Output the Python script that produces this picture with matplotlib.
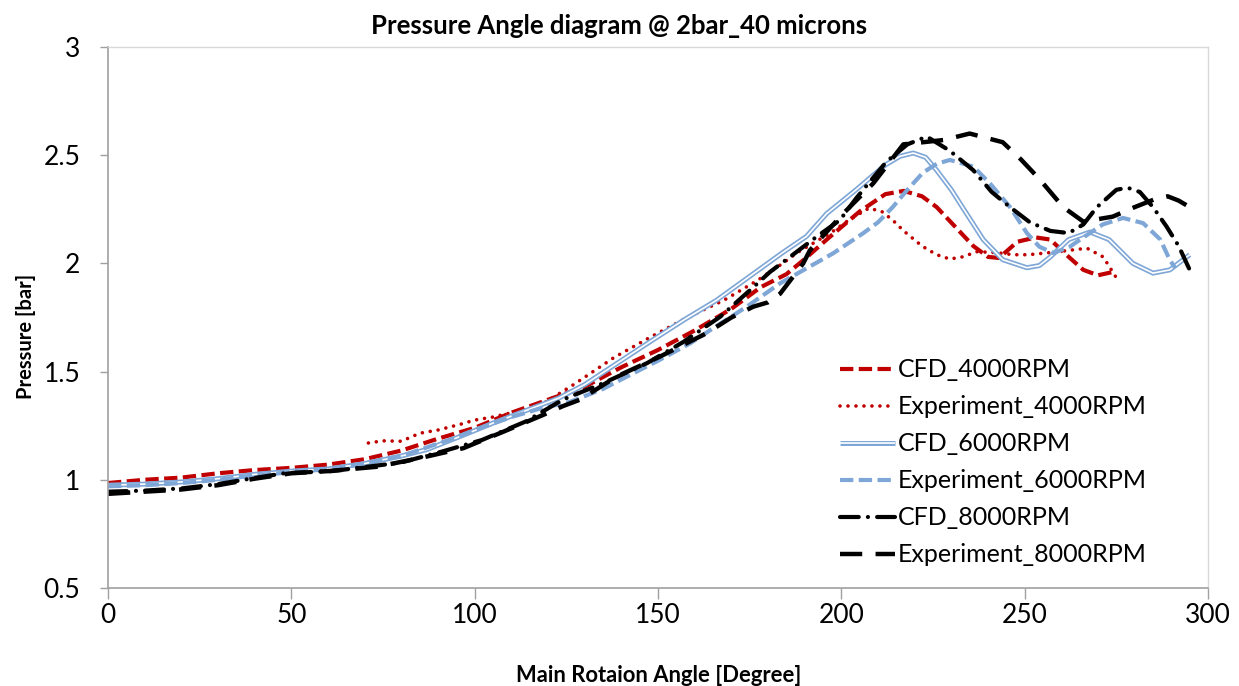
import matplotlib
matplotlib.use("Agg")
import matplotlib.pyplot as plt
from matplotlib.legend_handler import HandlerTuple

plt.rcParams['font.family'] = ['Lato', 'DejaVu Sans']

# ---------------- data ----------------
cfd4000_x = [0, 10, 20, 30, 40, 50, 60, 70, 80, 90, 100, 110, 120, 130, 140, 150, 160, 170, 178, 185,
             190, 196, 205, 212, 217, 222, 226, 231, 236, 240, 243, 248, 253, 257, 262, 266, 270, 274]
cfd4000_y = [0.985, 1.0, 1.01, 1.03, 1.045, 1.055, 1.07, 1.095, 1.135, 1.19, 1.24, 1.31, 1.37, 1.43, 1.52,
             1.6, 1.69, 1.79, 1.89, 1.95, 2.02, 2.11, 2.24, 2.32, 2.335, 2.31, 2.26, 2.17, 2.08, 2.03, 2.025,
             2.1, 2.12, 2.11, 2.03, 1.97, 1.945, 1.96]

exp4000_x = [71, 75, 80, 85, 90, 96, 100, 105, 110, 118, 127, 138, 148, 158, 168, 177, 184, 188, 193, 197,
             202, 207.5, 211, 214, 217, 222, 226, 229.6, 233, 237, 242, 247, 251, 257, 262, 267, 271.4, 275.5]
exp4000_y = [1.17, 1.18, 1.178, 1.215, 1.23, 1.256, 1.276, 1.29, 1.31, 1.345, 1.44, 1.565, 1.66, 1.75, 1.83,
             1.92, 2.0, 2.05, 2.1, 2.14, 2.2, 2.255, 2.24, 2.2, 2.15, 2.08, 2.04, 2.02, 2.03, 2.054, 2.05, 2.04,
             2.04, 2.05, 2.06, 2.07, 2.03, 1.92]

cfd6000_x = [0, 10, 20, 30, 40, 50, 60, 70, 80, 87, 96, 105, 114, 123, 130, 139, 148, 157, 166, 175, 184,
             190.5, 196, 204, 212, 216, 219.6, 223, 226, 230, 233, 238.7, 244, 250.6, 254, 257, 262, 267.8,
             273, 279.5, 285, 289.6, 295]
cfd6000_y = [0.975, 0.98, 0.99, 1.005, 1.025, 1.04, 1.05, 1.075, 1.11, 1.14, 1.2, 1.262, 1.32, 1.378, 1.44,
             1.54, 1.64, 1.738, 1.83, 1.94, 2.05, 2.125, 2.23, 2.34, 2.455, 2.495, 2.51, 2.49, 2.43, 2.34,
             2.26, 2.11, 2.017, 1.98, 1.99, 2.03, 2.11, 2.145, 2.11, 2.0, 1.955, 1.97, 2.04]

exp6000_x = [0, 10, 20, 30, 40, 50, 60, 70, 80, 87, 93, 100, 110, 118, 126, 135, 143, 150, 158.7, 165,
             174.2, 183.3, 190.5, 197.8, 206, 210, 214, 218, 222.3, 226, 229.6, 236, 240.5, 246,
             250.6, 254, 257.8, 262.3, 266, 271.3, 276.8, 282.3, 287, 289.6, 291]
exp6000_y = [0.97, 0.975, 0.985, 1.0, 1.02, 1.035, 1.05, 1.075, 1.11, 1.15, 1.184, 1.23, 1.29, 1.33, 1.36,
             1.42, 1.49, 1.55, 1.63, 1.7, 1.80, 1.908, 1.977, 2.047, 2.14, 2.19, 2.26, 2.34, 2.42, 2.46,
             2.478, 2.447, 2.37, 2.26, 2.14, 2.077, 2.048, 2.077, 2.12, 2.18, 2.21, 2.186, 2.11, 2.015, 1.98]

cfd8000_x = [0, 10, 20, 30, 37, 48, 61, 73, 80, 91, 102, 114, 124, 135, 147, 157, 167, 176, 180.5, 186,
             193, 199.6, 204, 212.3, 218, 223.3, 229.6, 236, 241, 246, 251.4, 257, 262, 266, 269.7, 275, 278,
             281.4, 285, 288.7, 292, 295]
cfd8000_y = [0.945, 0.95, 0.96, 0.98, 1.0, 1.03, 1.04, 1.065, 1.08, 1.13, 1.184, 1.27, 1.37, 1.446, 1.539,
             1.638, 1.754, 1.89, 1.96, 2.03, 2.12, 2.2, 2.3, 2.47, 2.55, 2.586, 2.52, 2.43, 2.33, 2.26, 2.19,
             2.15, 2.14, 2.18, 2.26, 2.34, 2.35, 2.33, 2.26, 2.17, 2.08, 1.97]

exp8000_x = [0, 10, 20, 30, 40, 50, 60, 73.3, 85, 96.9, 107.8, 118.7, 124, 128.7, 138.7, 150.5, 163.2,
             170, 176, 180, 183.3, 189.6, 191.4, 200.5, 208.7, 216.9, 227.8, 235, 244, 249, 254, 260.5,
             266, 274, 280, 286, 289, 292, 296]
exp8000_y = [0.935, 0.945, 0.955, 0.975, 1.005, 1.03, 1.04, 1.06, 1.1, 1.146, 1.222, 1.3, 1.34, 1.37,
             1.477, 1.569, 1.677, 1.75, 1.8, 1.82, 1.86, 2.0, 2.06, 2.23, 2.37, 2.55, 2.57, 2.6, 2.56,
             2.48, 2.39, 2.26, 2.193, 2.216, 2.26, 2.3, 2.31, 2.29, 2.25]

labels = ['CFD_4000RPM', 'Experiment_4000RPM', 'CFD_6000RPM',
          'Experiment_6000RPM', 'CFD_8000RPM', 'Experiment_8000RPM']
title = 'Pressure Angle diagram @ 2bar_40 microns'
xlabel = 'Main Rotaion Angle [Degree]'
ylabel = 'Pressure [bar]'
xticks = [0, 50, 100, 150, 200, 250, 300]
yticks = [0.5, 1, 1.5, 2, 2.5, 3]
yticklabels = ['0.5', '1', '1.5', '2', '2.5', '3']

# ---------------- plot ----------------
RED = '#C00000'
BLUE = '#7EA6D6'

fig = plt.figure(figsize=(12.39, 6.86), dpi=100)
ax = fig.add_axes([0.0872, 0.1429, 0.8878, 0.7886])

l1, = ax.plot(cfd4000_x, cfd4000_y, color=RED, lw=3, linestyle=(0, (3.2, 1.3)))
l2, = ax.plot(exp4000_x, exp4000_y, color=RED, lw=2.6, linestyle=(0, (0.01, 2.2)),
              dash_capstyle='round')
l3a, = ax.plot(cfd6000_x, cfd6000_y, color=BLUE, lw=3.6, solid_capstyle='butt')
l3b, = ax.plot(cfd6000_x, cfd6000_y, color='white', lw=1.2, solid_capstyle='butt')
l4, = ax.plot(exp6000_x, exp6000_y, color=BLUE, lw=3, linestyle=(0, (3.2, 1.3)))
l5, = ax.plot(cfd8000_x, cfd8000_y, color='black', lw=3, linestyle=(0, (4.5, 2.2, 0.01, 2.2)),
              dash_capstyle='round')
l6, = ax.plot(exp8000_x, exp8000_y, color='black', lw=3.2, linestyle=(0, (5, 3)))

ax.set_xlim(0, 300)
ax.set_ylim(0.5, 3)
ax.set_xticks(xticks)
ax.set_yticks(yticks)
ax.set_xticklabels([str(v) for v in xticks])
ax.set_yticklabels(yticklabels)
ax.tick_params(axis='both', labelsize=19, colors='#A0A0A0', labelcolor='black')
ax.tick_params(axis='x', direction='out', length=8, width=1, pad=3)
ax.tick_params(axis='y', direction='out', length=6, width=1, pad=14)

for s in ['left', 'bottom']:
    ax.spines[s].set_color('#A0A0A0')
    ax.spines[s].set_linewidth(1.2)
for s in ['top', 'right']:
    ax.spines[s].set_color('#D9D9D9')
    ax.spines[s].set_linewidth(1)

fig.text(0.5, 0.962, title, ha='center', va='center', fontsize=18.5, fontweight='bold')
fig.text(0.5315, 0.016, xlabel, ha='center', va='center', fontsize=15.8, fontweight='bold')
fig.text(0.021, 0.509, ylabel, ha='center', va='center', fontsize=14.5, fontweight='bold',
         rotation=90)

leg = ax.legend([l1, l2, (l3a, l3b), l4, l5, l6], labels,
                handler_map={tuple: HandlerTuple(ndivide=1)},
                loc='upper left', bbox_to_anchor=(0.656, 0.443), frameon=False,
                fontsize=18, handlelength=2.2, handletextpad=0.12, labelspacing=0.56,
                borderaxespad=0)

fig.savefig('out.png', dpi=100)
